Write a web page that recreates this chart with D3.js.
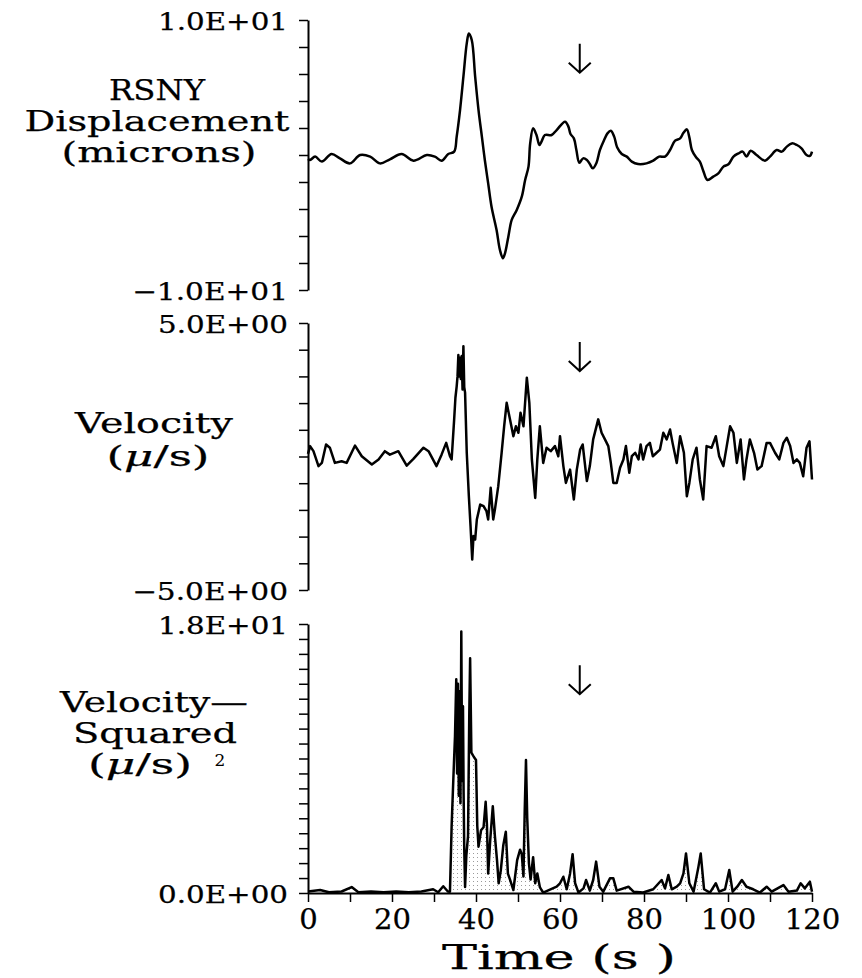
<!DOCTYPE html>
<html><head><meta charset="utf-8">
<script src="https://cdn.jsdelivr.net/npm/d3@7/dist/d3.min.js"></script>
<style>body{margin:0;background:#fff}svg{display:block}</style>
</head><body>
<script>
// ---- data ----
const dispT = [0,0.5,1.7,3.3,5.6,7.6,10.0,12.4,14.8,17.1,19.5,22.3,25.1,28.3,30.2,31.8,33.4,34.8,35.4,36.2,37.0,37.8,38.3,39.0,39.8,40.6,41.4,42.1,42.9,43.7,44.9,45.7,46.4,46.9,47.7,48.5,49.7,50.9,51.7,52.5,52.9,53.6,54.4,55.1,55.6,56.4,58.0,59.2,61.2,62.0,62.5,63.3,63.9,64.6,65.5,66.4,67.1,67.8,68.7,69.5,70.5,71.3,72.1,72.9,73.6,74.7,75.9,77.1,78.6,80.6,82.2,83.6,85.0,86.2,87.4,88.6,89.4,90.2,90.8,91.4,92.4,93.3,94.1,95.1,96.5,97.7,98.9,100.1,101.3,102.5,103.5,104.4,105.4,106.8,108.8,110.0,111.6,112.8,114.0,115.2,116.4,117.5,118.7,119.5,120.0];
const dispV = [-0.3,-0.37,-0.12,-0.49,0.07,-0.25,-0.62,0,-0.12,-0.62,-0.32,0.07,-0.42,0,-0.12,-0.42,0.07,0.25,1.36,3.33,5.8,8.27,9.0,8.5,5.8,3.33,1.36,-0.37,-2.1,-3.83,-5.56,-7.04,-7.65,-7.28,-6.05,-4.81,-4.07,-3.09,-1.85,-0.86,0.86,1.98,1.48,0.74,0.99,1.48,1.48,1.85,2.47,2.1,1.56,1.23,0.37,-0.57,-0.25,-0.37,-0.67,-0.99,-0.57,0.37,1.11,1.6,1.8,1.36,0.57,0.07,-0.12,-0.49,-0.67,-0.62,-0.42,-0.12,-0.12,0.37,1.06,1.23,1.65,1.9,1.31,0.37,-0.17,-0.49,-1.16,-1.85,-1.6,-1.36,-0.86,-0.69,-0.12,0.12,0.25,-0.12,0.32,0,-0.42,-0.12,0.37,0.25,0.62,0.86,0.74,0.49,0,-0.07,0.25];

const velT = [0,0.5,1.3,2.5,3.3,4.3,5.2,6.4,8.0,9.2,11.2,12.8,15.2,16.8,18.3,19.5,21.5,23.5,25.1,27.5,28.7,30.6,31.8,32.9,33.8,34.2,34.8,35.1,35.4,35.6,35.8,36.0,36.2,36.4,36.6,36.8,37.0,37.2,37.4,37.8,38.3,38.7,39.1,39.4,39.8,40.2,41.0,41.8,42.5,42.9,43.5,44.1,44.5,45.3,46.1,46.7,47.3,48.1,48.9,49.5,50.1,50.6,51.3,52.1,52.7,53.3,54.1,54.6,55.2,56.0,56.8,57.8,58.8,59.6,60.0,60.8,61.4,62.4,63.3,64.0,64.8,65.4,66.4,67.1,67.9,69.1,69.9,70.7,71.5,72.1,72.7,73.5,74.3,75.1,75.7,76.5,77.1,77.9,78.7,79.2,79.8,80.6,81.4,82.1,83.0,83.8,84.6,85.4,86.2,86.8,87.8,88.6,89.5,90.2,90.8,91.6,92.5,93.3,94.1,94.9,96.1,97.1,97.9,98.9,99.7,100.5,101.3,102.1,103.0,103.8,104.4,105.2,106.2,107.0,108.0,109.2,110.0,111.2,112.2,113.2,114.0,114.8,115.6,116.4,117.1,117.9,118.7,119.4,120.0];
const velV = [0.1,0.39,0.2,-0.36,-0.24,0.45,0.33,-0.24,-0.18,-0.24,0.41,0.01,-0.3,-0.11,0.2,0.07,0.2,-0.34,-0.09,0.33,0.2,-0.36,0.07,0.51,0.01,-0.11,1.39,2.2,2.63,3.0,3.8,3.0,3.7,2.9,3.76,2.51,4.13,2.6,2.39,0.14,-1.49,-2.61,-3.86,-2.98,-3.11,-2.36,-1.8,-1.86,-2.05,-2.36,-1.17,-2.36,-1.99,-1.11,0.14,1.13,2.01,1.39,0.76,1.13,0.89,1.64,1.13,2.95,2.01,-0.11,-1.55,-0.11,1.13,-0.24,0.33,0.2,0.39,0.01,0.76,-0.36,-0.99,-0.49,-1.61,-0.49,0.26,0.45,-0.92,-0.36,0.64,1.39,0.89,0.64,0.39,-0.24,-0.99,-0.99,-0.42,-0.11,0.39,-0.61,0.01,0.14,-0.11,0.45,-0.11,0.39,0.51,0.01,0.14,0.26,0.89,0.64,1.01,0.51,-0.24,0.76,0.14,-1.49,-0.99,-0.11,0.33,-0.86,-1.61,0.39,0.33,0.76,0.01,-0.36,0.39,1.13,0.89,-0.24,0.64,-0.86,-0.11,0.64,0.14,-0.49,-0.36,0.51,0.51,0.14,-0.11,0.51,0.7,0.39,-0.24,-0.11,-0.24,-0.74,0.33,0.57,-0.86];

const vsqT = [0,2.9,5.0,8.0,10.4,12.0,15.0,18.0,21.0,24.0,27.0,29.8,31.0,32.2,33.3,33.8,34.2,34.6,35.0,35.3,35.5,35.7,35.9,36.1,36.3,36.5,36.7,36.9,37.05,37.2,37.4,37.7,38.1,38.4,38.6,38.9,39.5,40.0,40.3,40.6,41.2,41.8,42.3,42.6,42.9,43.4,44.0,44.5,45.0,45.4,45.9,46.5,47.1,47.6,48.1,48.9,49.8,50.5,50.9,51.3,51.6,51.9,52.2,52.6,53.0,53.6,54.1,54.6,55.2,55.6,56.0,59.2,60.0,60.8,61.6,62.4,63.0,63.6,64.4,65.6,66.2,67.1,67.9,68.6,69.4,70.3,71.9,72.7,73.5,76.3,77.5,79.8,82.2,84.2,85.0,85.8,86.6,87.8,88.6,89.4,90.0,90.8,91.8,92.9,93.5,94.3,95.7,97.1,97.9,99.3,100.3,101.1,102.2,103.3,104.4,106.0,107.6,109.2,110.4,113.2,114.4,116.4,117.3,118.3,119.5,120.0];
const vsqV = [0.1,0.2,0.05,0.1,0.4,0.05,0.1,0.05,0.1,0.05,0.1,0.25,0.05,0.45,0.1,0.09,4.5,7.6,10.5,14.3,8.0,14.0,6.5,13.5,6.0,17.5,7.5,12.5,6.7,3.0,0.4,2.5,3.8,12.0,15.7,9.4,9.1,8.9,4.5,3.1,4.2,4.4,6.1,4.6,1.3,3.6,5.8,3.8,2.2,0.65,1.5,3.2,4.1,1.3,0.9,0.2,2.2,2.9,2.6,1.1,5.5,8.9,5.0,2.0,0.9,2.4,0.65,1.3,0.4,0.2,0.03,0.42,0.65,1.09,0.25,1.31,2.6,0.65,0.03,0.31,0.87,0.16,0.87,2.1,0.42,0.09,0.98,0.98,0.16,0.42,0.09,0.03,0.25,0.87,0.31,1.2,0.25,0.42,0.65,1.31,2.65,0.65,0.09,1.65,2.65,0.25,0.03,0.65,0.09,0.25,1.54,0.09,0.42,0.87,0.42,0.25,0.03,0.42,0.09,0.53,0.09,0.16,0.65,0.31,0.76,0.09];

const xTicks = [0,10,20,30,40,50,60,70,80,90,100,110,120];
const xTickLabels = ["0","","20","","40","","60","","80","","100","","120"];
const xTitle = "Time (s )";

const dispYTicks = [-10,-8,-6,-4,-2,0,2,4,6,8,10];
const dispYLabels = ["−1.0E+01","","","","","","","","","","1.0E+01"];
const velYTicks = [-5,-4,-3,-2,-1,0,1,2,3,4,5];
const velYLabels = ["−5.0E+00","","","","","","","","","","5.0E+00"];
const vsqYTicks = [0,1,2,3,4,5,6,7,8,9,10,11,12,13,14,15,16,17,18];
const vsqYLabels = ["0.0E+00","","","","","","","","","","","","","","","","","","1.8E+01"];

// title lines; a line given as [before, italic, after] has an italic middle part
const dispTitle = ["RSNY","Displacement","(microns)"];
const velTitle = ["Velocity",["(","μ","/s)"]];
const vsqTitle = ["Velocity—","Squared",["(","μ","/s)"]];
const vsqTitleSup = "2";

const arrowTime = 64.7;             // annotation arrow (s)
const arrowTips = [6.1, 3.2, 13.3]; // arrow tip level in each panel's units

// ---- drawing ----
const W = 862, H = 978;
const FONT = "'DejaVu Serif', serif";
const svg = d3.select("body").append("svg").attr("width", W).attr("height", H);

const defs = svg.append("defs");
const pat = defs.append("pattern").attr("id","stip").attr("patternUnits","userSpaceOnUse")
  .attr("width",4).attr("height",4);
pat.append("rect").attr("x",1).attr("y",1).attr("width",1).attr("height",1).attr("fill","#9a9a9a");

const x = d3.scaleLinear().domain([0,120]).range([308,812]);

const panels = [
  {t:dispT, v:dispV, dom:[-10,10], rng:[290,20], ticks:dispYTicks, labels:dispYLabels, smooth:true,
   title:dispTitle, tl:[{x:157,y:100,w:96},{x:157,y:131,w:265},{x:159,y:162,w:195}], tip:arrowTips[0]},
  {t:velT, v:velV, dom:[-5,5], rng:[590,323], ticks:velYTicks, labels:velYLabels,
   title:velTitle, tl:[{x:154,y:433,w:158},{x:158,y:466,w:103}], tip:arrowTips[1]},
  {t:vsqT, v:vsqV, dom:[0,18], rng:[893,624], ticks:vsqYTicks, labels:vsqYLabels,
   title:vsqTitle, tl:[{x:154,y:712,w:188},{x:155,y:743,w:164},{x:140,y:774,w:104}], tip:arrowTips[2], fill:true}
];

panels.forEach((p) => {
  const y = d3.scaleLinear().domain(p.dom).range(p.rng);
  const pts = p.t.map((t,i) => [t, p.v[i]]);
  const g = svg.append("g");

  if (p.fill) {
    const area = d3.area().x(d => x(d[0])).y0(y(0)).y1(d => y(d[1]));
    g.append("path").datum(pts).attr("d", area).attr("fill","url(#stip)").attr("stroke","none");
  }
  const line = d3.line().x(d => x(d[0])).y(d => y(d[1]));
  if (p.smooth) line.curve(d3.curveCatmullRom.alpha(0.5));
  g.append("path").datum(pts).attr("d", line)
    .attr("fill","none").attr("stroke","#000").attr("stroke-width",2.5).attr("stroke-linejoin","round");

  // y axis
  const ax = d3.axisLeft(y).tickValues(p.ticks).tickSize(9).tickSizeOuter(0).tickPadding(11)
    .tickFormat((d,i) => p.labels[i]);
  const ag = svg.append("g").attr("transform", `translate(${x(0)},0)`).call(ax);
  ag.attr("font-family", FONT).attr("font-size", 24);
  ag.select(".domain").attr("stroke","#000").attr("stroke-width",2);
  ag.selectAll(".tick line").attr("stroke","#000").attr("stroke-width",1.5);
  ag.selectAll(".tick text").attr("fill","#000").attr("dy","0.38em")
    .attr("stroke","#000").attr("stroke-width",0.25)
    .each(function(){ const s = this.textContent; if (s) d3.select(this).attr("textLength", s.length >= 8 ? 156 : 130).attr("lengthAdjust","spacingAndGlyphs"); });

  // titles
  p.title.forEach((s, i) => {
    const L = p.tl[i];
    const t = svg.append("text").attr("x", L.x).attr("y", L.y).attr("text-anchor","middle")
      .attr("font-family", FONT).attr("font-size", 28).attr("fill","#000")
      .attr("stroke","#000").attr("stroke-width",0.25)
      .attr("textLength", L.w).attr("lengthAdjust","spacingAndGlyphs");
    if (Array.isArray(s)) {
      t.append("tspan").text(s[0]);
      t.append("tspan").attr("font-style","italic").text(s[1]);
      t.append("tspan").text(s[2]);
    } else t.text(s);
  });

  // arrow
  const ax0 = x(arrowTime), ty = y(p.tip);
  svg.append("path").attr("d", `M${ax0},${ty-29}V${ty}M${ax0-11},${ty-10}L${ax0},${ty}L${ax0+11},${ty-10}`)
    .attr("fill","none").attr("stroke","#000").attr("stroke-width",2);
});

// superscript 2 on the bottom title
svg.append("text").attr("x", 220).attr("y", 766).attr("text-anchor","middle")
  .attr("font-family", FONT).attr("font-size", 17).attr("fill","#000").text(vsqTitleSup);

// x axis (bottom panel)
const yb = d3.scaleLinear().domain([0,18]).range([893,624]);
const xa = d3.axisBottom(x).tickValues(xTicks).tickSize(9).tickSizeOuter(0).tickPadding(8)
  .tickFormat((d,i) => xTickLabels[i]);
const xg = svg.append("g").attr("transform", `translate(0,${yb(0)})`).call(xa);
xg.attr("font-family", FONT).attr("font-size", 27);
xg.select(".domain").attr("stroke","#000").attr("stroke-width",2);
xg.selectAll(".tick line").attr("stroke","#000").attr("stroke-width",1.5);
xg.selectAll(".tick text").attr("fill","#000").attr("stroke","#000").attr("stroke-width",0.25)
  .each(function(){ const s = this.textContent; if (s) d3.select(this).attr("textLength", s.length * 18.5).attr("lengthAdjust","spacingAndGlyphs"); });

svg.append("text").attr("x", 559).attr("y", 969).attr("text-anchor","middle")
  .attr("font-family", FONT).attr("font-size", 33).attr("fill","#000")
  .attr("stroke","#000").attr("stroke-width",0.25)
  .attr("textLength", 234).attr("lengthAdjust","spacingAndGlyphs").text(xTitle);
</script>
</body></html>
